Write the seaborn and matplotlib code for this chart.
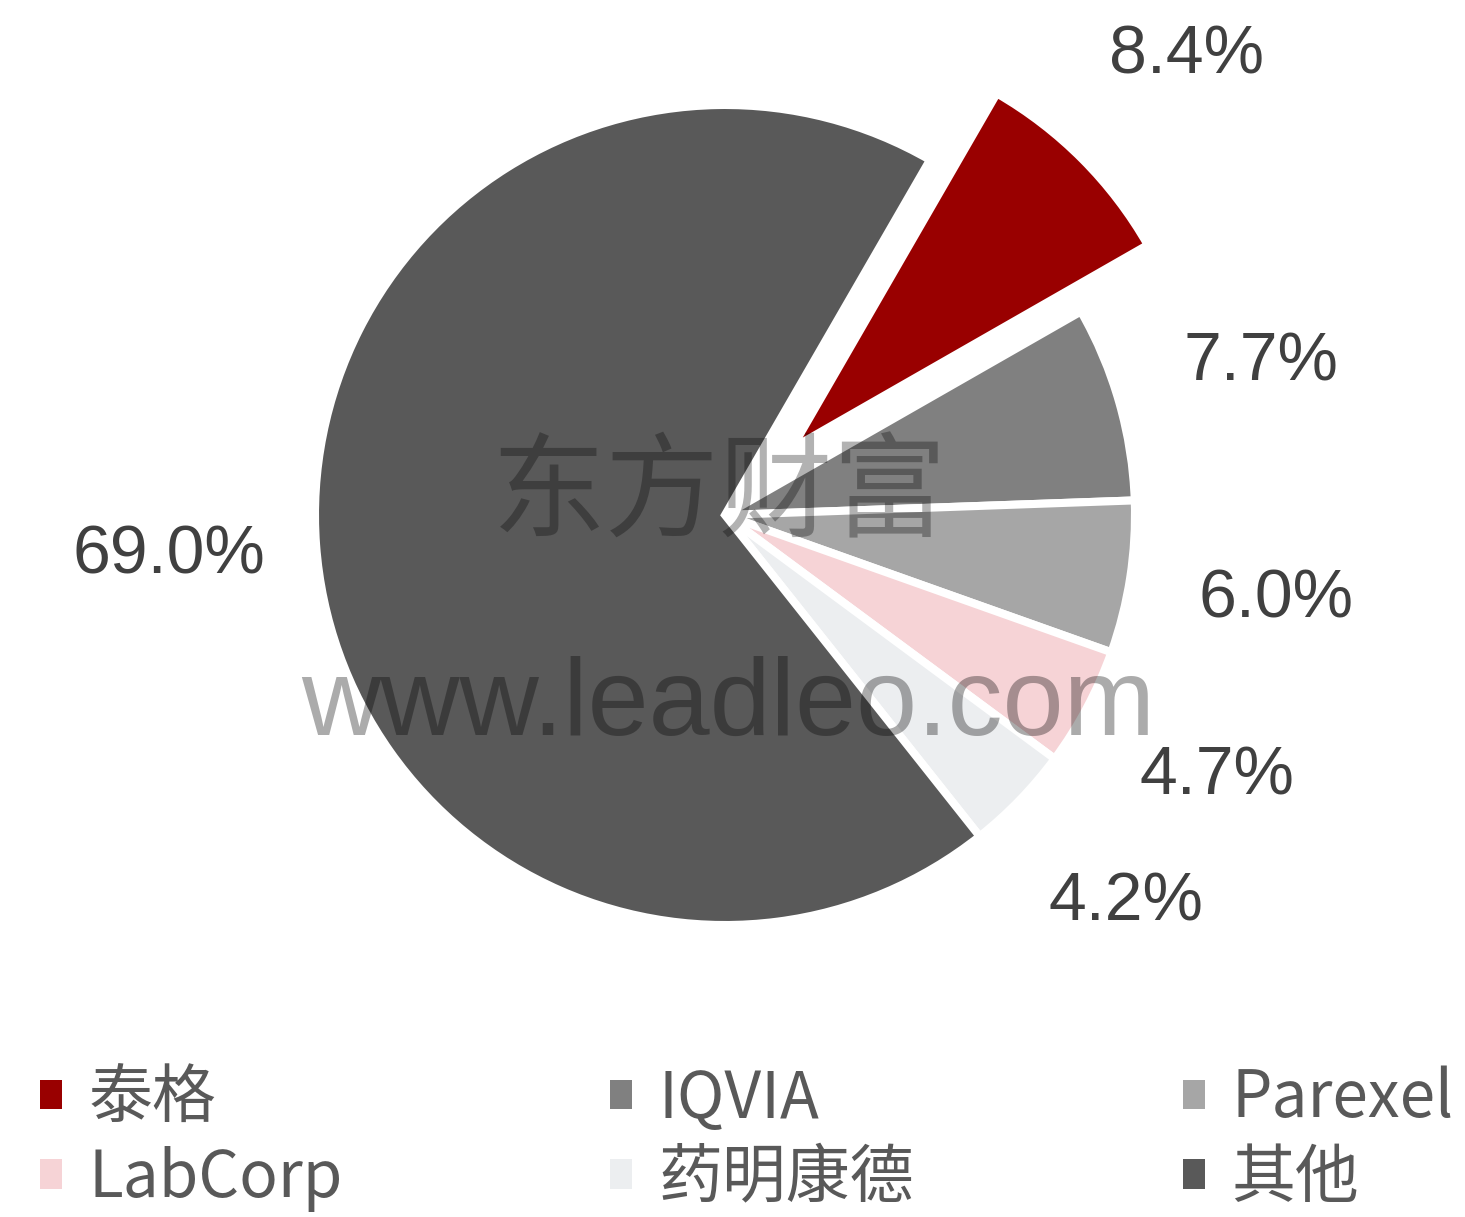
import matplotlib
matplotlib.use("Agg")
import matplotlib.pyplot as plt
from matplotlib.patches import Patch
import seaborn as sns

# ---- data ----
names = ['泰格', 'IQVIA', 'Parexel', 'LabCorp', '药明康德', '其他']
shares = [8.4, 7.7, 6.0, 4.7, 4.2, 69.0]
colors = ['#990000', '#808080', '#a6a6a6', '#f6d3d6', '#eceef0', '#595959']
explode = [0.23, 0, 0, 0, 0, 0]

sns.set_theme(style='white')
plt.rcParams['font.family'] = ['Noto Sans CJK SC', 'DejaVu Sans']
palette = sns.color_palette(colors)

W, H = 1465, 1217
fig = plt.figure(figsize=(W / 100, H / 100), dpi=100)
fig.patch.set_facecolor('white')

ax = fig.add_axes([0, 0, 1, 1])
R = 410.0  # pixel radius
cx, cy = 725.0, 515.0  # pie center (pixels from top-left)

wedges, texts, autotexts = ax.pie(
    shares, colors=palette, explode=explode, startangle=60,
    counterclock=False, autopct='%.1f%%', pctdistance=1.36,
    wedgeprops=dict(edgecolor='white', linewidth=5.8),
    textprops=dict(color='#404040', fontsize=49),
)
for t in autotexts:
    t.set_fontfamily(['Liberation Sans', 'DejaVu Sans'])
ax.set_xlim(-cx / R, (W - cx) / R)
ax.set_ylim(-(H - cy) / R, cy / R)
ax.set_aspect('equal', adjustable='box')
ax.axis('off')

# watermarks
fig.text(720 / W, 1 - 495 / H, '东方财富', ha='center', va='center',
         fontsize=82, color='black', alpha=0.3,
         family=['Noto Sans CJK SC', 'DejaVu Sans'])
fig.text(728 / W, 1 - 707 / H, 'www.leadleo.com', ha='center', va='center',
         fontsize=79, color='black', alpha=0.33,
         family=['Liberation Sans', 'DejaVu Sans'])

# legend: three columns placed row-wise
handles = [Patch(facecolor=palette[i], edgecolor='none') for i in range(len(names))]
col_x = [40, 610, 1183]
for c in range(3):
    idx = [c, c + 3]
    leg = fig.legend([handles[i] for i in idx], [names[i] for i in idx],
                     loc='upper left', bbox_to_anchor=(col_x[c] / W, 1 - 1066 / H),
                     bbox_transform=fig.transFigure,
                     frameon=False, handlelength=0.34, handleheight=0.34,
                     handletextpad=0.42, labelspacing=0.2, borderpad=0,
                     borderaxespad=0,
                     prop=dict(family=['Noto Sans CJK SC', 'DejaVu Sans'], size=46))
    for t in leg.get_texts():
        t.set_color('#595959')

fig.savefig('out.png', dpi=100, facecolor='white')
